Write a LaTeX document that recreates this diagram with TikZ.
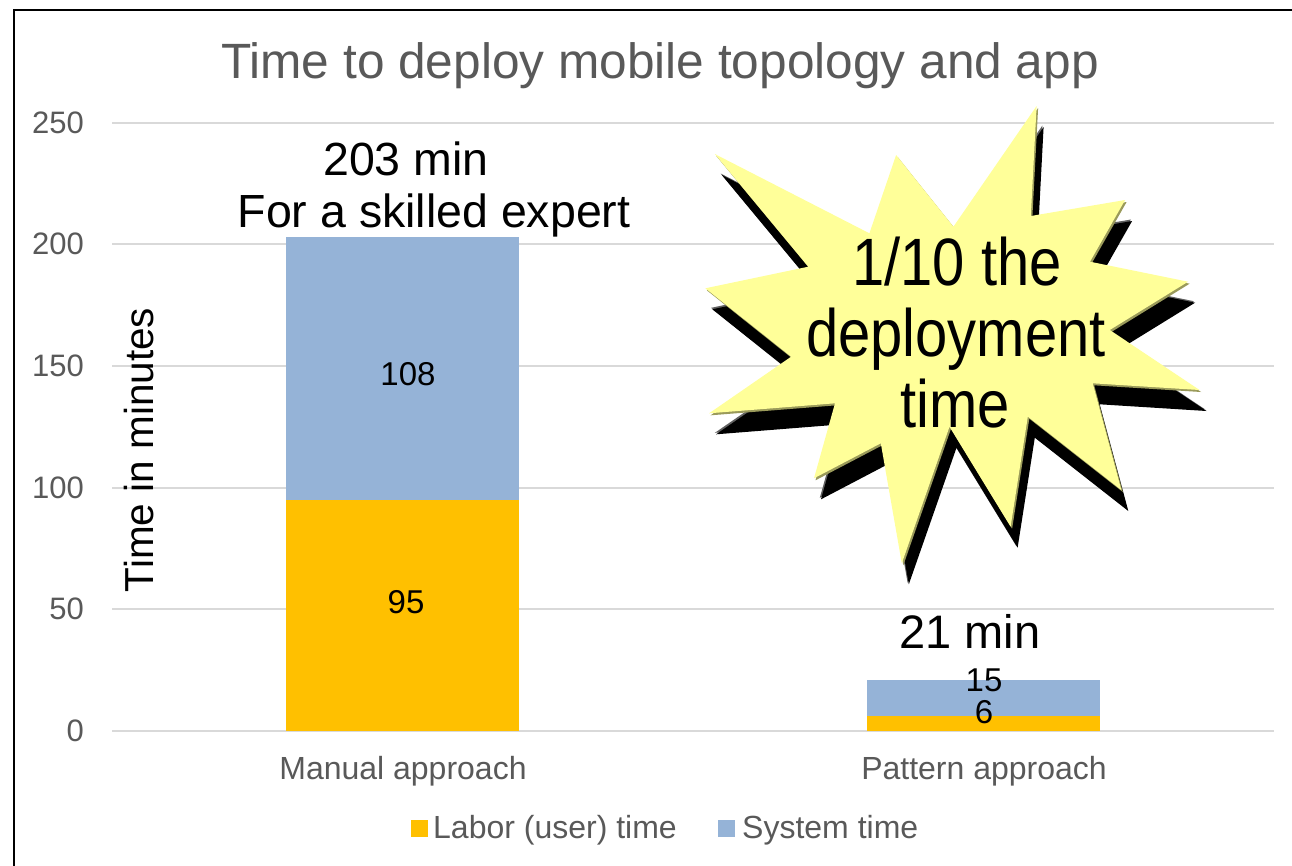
\documentclass[tikz,border=0pt]{standalone}
\usepackage{fontspec}
\setmainfont{Liberation Sans}
\newfontfamily\narrowfont[FakeStretch=0.865]{Liberation Sans}
\definecolor{axisgray}{HTML}{595959}
\definecolor{gridgray}{HTML}{D9D9D9}
\definecolor{sysblue}{HTML}{95B3D7}
\definecolor{laborange}{HTML}{FFC000}
\definecolor{burstyellow}{HTML}{FFFF99}
\definecolor{burstedge}{HTML}{9A9A5A}
\definecolor{shadowgray}{HTML}{606060}
\tikzset{
  gridline/.style={draw=gridgray, line width=2pt},
  ticklabel/.style={anchor=base east, inner sep=0pt, text=axisgray, font=\fontsize{31}{31}\selectfont},
  catlabel/.style={anchor=base, inner sep=0pt, text=axisgray, font=\fontsize{32}{32}\selectfont},
  leglabel/.style={anchor=base west, inner sep=0pt, text=axisgray, font=\fontsize{32}{32}\selectfont},
  vallabel/.style={anchor=base, inner sep=0pt, text=black, font=\fontsize{33}{33}\selectfont},
  biglabel/.style={anchor=base, inner sep=0pt, text=black, font=\fontsize{46.5}{46.5}\selectfont},
  burstlabel/.style={anchor=base, inner sep=0pt, text=black, font=\narrowfont\fontsize{67}{67}\selectfont},
  burstpath/.style={insert path={(1036.6,106) -- (1030.8,216) -- (1125.1,200) -- (1090.0,261.7) -- (1188.1,281.7) -- (1109.8,330) -- (1199.5,390) -- (1092.7,383.3) -- (1121.3,490) -- (1027.8,416.7) -- (1010.6,526.7) -- (949.5,426.7) -- (901.8,563.3) -- (880.8,443.3) -- (814.0,478.3) -- (835.0,403.3) -- (709.1,413.3) -- (791.1,356.7) -- (705.3,288.3) -- (808.3,266.7) -- (714.8,154) -- (869.4,233.3) -- (896.1,155) -- (953.4,226.7) -- cycle}}
}
\begin{document}
\begin{tikzpicture}[x=1pt,y=-1pt]
\useasboundingbox (0,0) rectangle (1292,865);
\fill[white] (0,0) rectangle (1292,865);
% frame
\draw[black, line width=2pt] (14,866) -- (14,10) -- (1293,10);
% title
\node[anchor=base, inner sep=0pt, text=axisgray, font=\fontsize{49.6}{49.6}\selectfont] (title) at (660,78) {Time to deploy mobile topology and app};
% gridlines and ticks
\foreach \v/\yy in {0/730.7,50/609.1,100/487.5,150/365.9,200/244.3,250/122.7}{
  \draw[gridline] (112,\yy) -- (1274,\yy);
  \node[ticklabel] (tick\v) at (84,\yy+10.6) {\v};
}
% axis title
\node[anchor=base, inner sep=0pt, rotate=90, text=black, font=\fontsize{40.5}{40.5}\selectfont] (ytitle) at (153,450) {Time in minutes};
% bars
\fill[laborange] (286,730.7) rectangle (518.5,499.7);
\fill[sysblue] (286,499.7) rectangle (518.5,237.0);
\fill[laborange] (867,730.7) rectangle (1100,716.1);
\fill[sysblue] (867,716.1) rectangle (1100,679.6);
% value labels
\node[vallabel] (v95) at (406,613) {95};
\node[vallabel] (v108) at (408,385) {108};
\node[vallabel] (v6) at (984,723) {6};
\node[vallabel] (v15) at (984,691) {15};
\node[biglabel] (tot1) at (406,175) {203 min};
\node[biglabel] (expert) at (434,227) {For a skilled expert};
\node[biglabel, font=\fontsize{47}{47}\selectfont] (tot2) at (970,648) {21 min};
% category labels
\node[catlabel] (cat1) at (403,779) {Manual approach};
\node[catlabel] (cat2) at (984,779) {Pattern approach};
% legend
\fill[laborange] (411,820) rectangle (427.5,837);
\node[leglabel] (leg1) at (433,838) {Labor (user) time};
\fill[sysblue] (717.5,820) rectangle (734.5,837);
\node[leglabel] (leg2) at (742,838) {System time};
% starburst with drop shadow
\begin{scope}[shift={(5.8,19.5)}]
  \fill[shadowgray, burstpath];
\end{scope}
\begin{scope}[shift={(7,21)}]
  \fill[black, burstpath];
\end{scope}
\begin{scope}[shift={(1.5,2)}]
  \fill[burstedge, burstpath];
\end{scope}
\fill[burstyellow, burstpath];
\node[burstlabel] (b1) at (957,285) {1/10 the};
\node[burstlabel] (b2) at (956,356) {deployment};
\node[burstlabel] (b3) at (955,427) {time};
\end{tikzpicture}
\end{document}
